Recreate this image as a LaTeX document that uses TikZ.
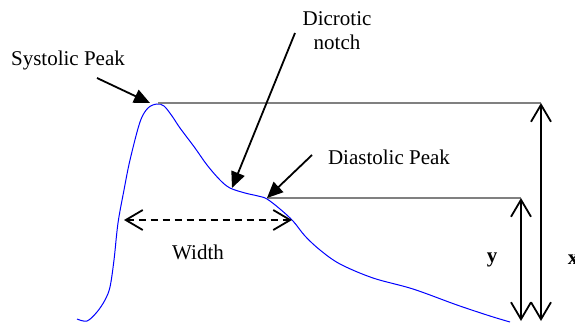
\documentclass[tikz,border=0pt]{standalone}
\usepackage{fontspec}
\setmainfont{Liberation Serif}
\usetikzlibrary{arrows.meta}
\begin{document}
\begin{tikzpicture}[x=1pt,y=-1pt,
  lbl/.style={font=\fontsize{21}{24}\selectfont, inner sep=0pt},
  pointer/.style={line width=1.8pt, -{Triangle[length=16pt,width=14pt]}},
  guide/.style={draw=gray, line width=1.8pt},
  dimarrow/.style={line width=1.8pt, {Straight Barb[length=17pt,width=20pt,line width=1.8pt]}-{Straight Barb[length=17pt,width=20pt,line width=1.8pt]}},
  wave/.style={blue, line width=1pt}]
\useasboundingbox (0,0) rectangle (575,324);
% waveform
\draw[wave] plot[smooth, tension=0.55] coordinates {
 (77,319) (87,321) (97,312) (105,300) (110,287) (114,260) (118,223) (124,190)
 (130,160) (140,122) (148,108) (157,104) (164,106) (172,116) (180,128) (195,148)
 (207,165) (220,180) (230,188) (245,193) (258,196) (267,199) (280,209) (293,221)
 (305,236) (320,250) (340,264) (373,278) (413,289) (457,305) (490,316) (510,322)};
% key points
\coordinate (peak) at (158,103);
\coordinate (notch) at (232,188);
\coordinate (dpeak) at (267,198);
\coordinate (xtop) at (541,103);
\coordinate (xbot) at (541,321);
\coordinate (ytop) at (521,198);
\coordinate (ybot) at (521,321);
\coordinate (wl) at (124,220);
\coordinate (wr) at (292,220);
% labels
\node[lbl] (sys) at (68,60) {Systolic Peak};
\node[lbl, align=center] (dic) at (337,31) {Dicrotic\\notch};
\node[lbl] (dia) at (389,157) {Diastolic Peak};
\node[lbl] (wid) at (198,252) {Width};
\node[lbl, font=\fontsize{21}{24}\selectfont\bfseries] (ylab) at (492,260) {y};
\node[lbl, font=\fontsize{21}{24}\selectfont\bfseries] (xlab) at (573,260) {x};
\coordinate (sysfrom) at (97,78);
\coordinate (dicfrom) at (295,33);
\coordinate (diafrom) at (312,155);
% guides
\draw[guide] (peak) -- (xtop);
\draw[guide] (dpeak) -- (ytop);
% pointers
\draw[pointer] (sysfrom) -- (150,103);
\draw[pointer] (dicfrom) -- (notch);
\draw[pointer] (diafrom) -- (dpeak);
% dimensions
\draw[dimarrow] (xtop) -- (xbot);
\draw[dimarrow] (ytop) -- (ybot);
\draw[dimarrow, dash pattern=on 7pt off 5pt] (wl) -- (wr);
\end{tikzpicture}
\end{document}
